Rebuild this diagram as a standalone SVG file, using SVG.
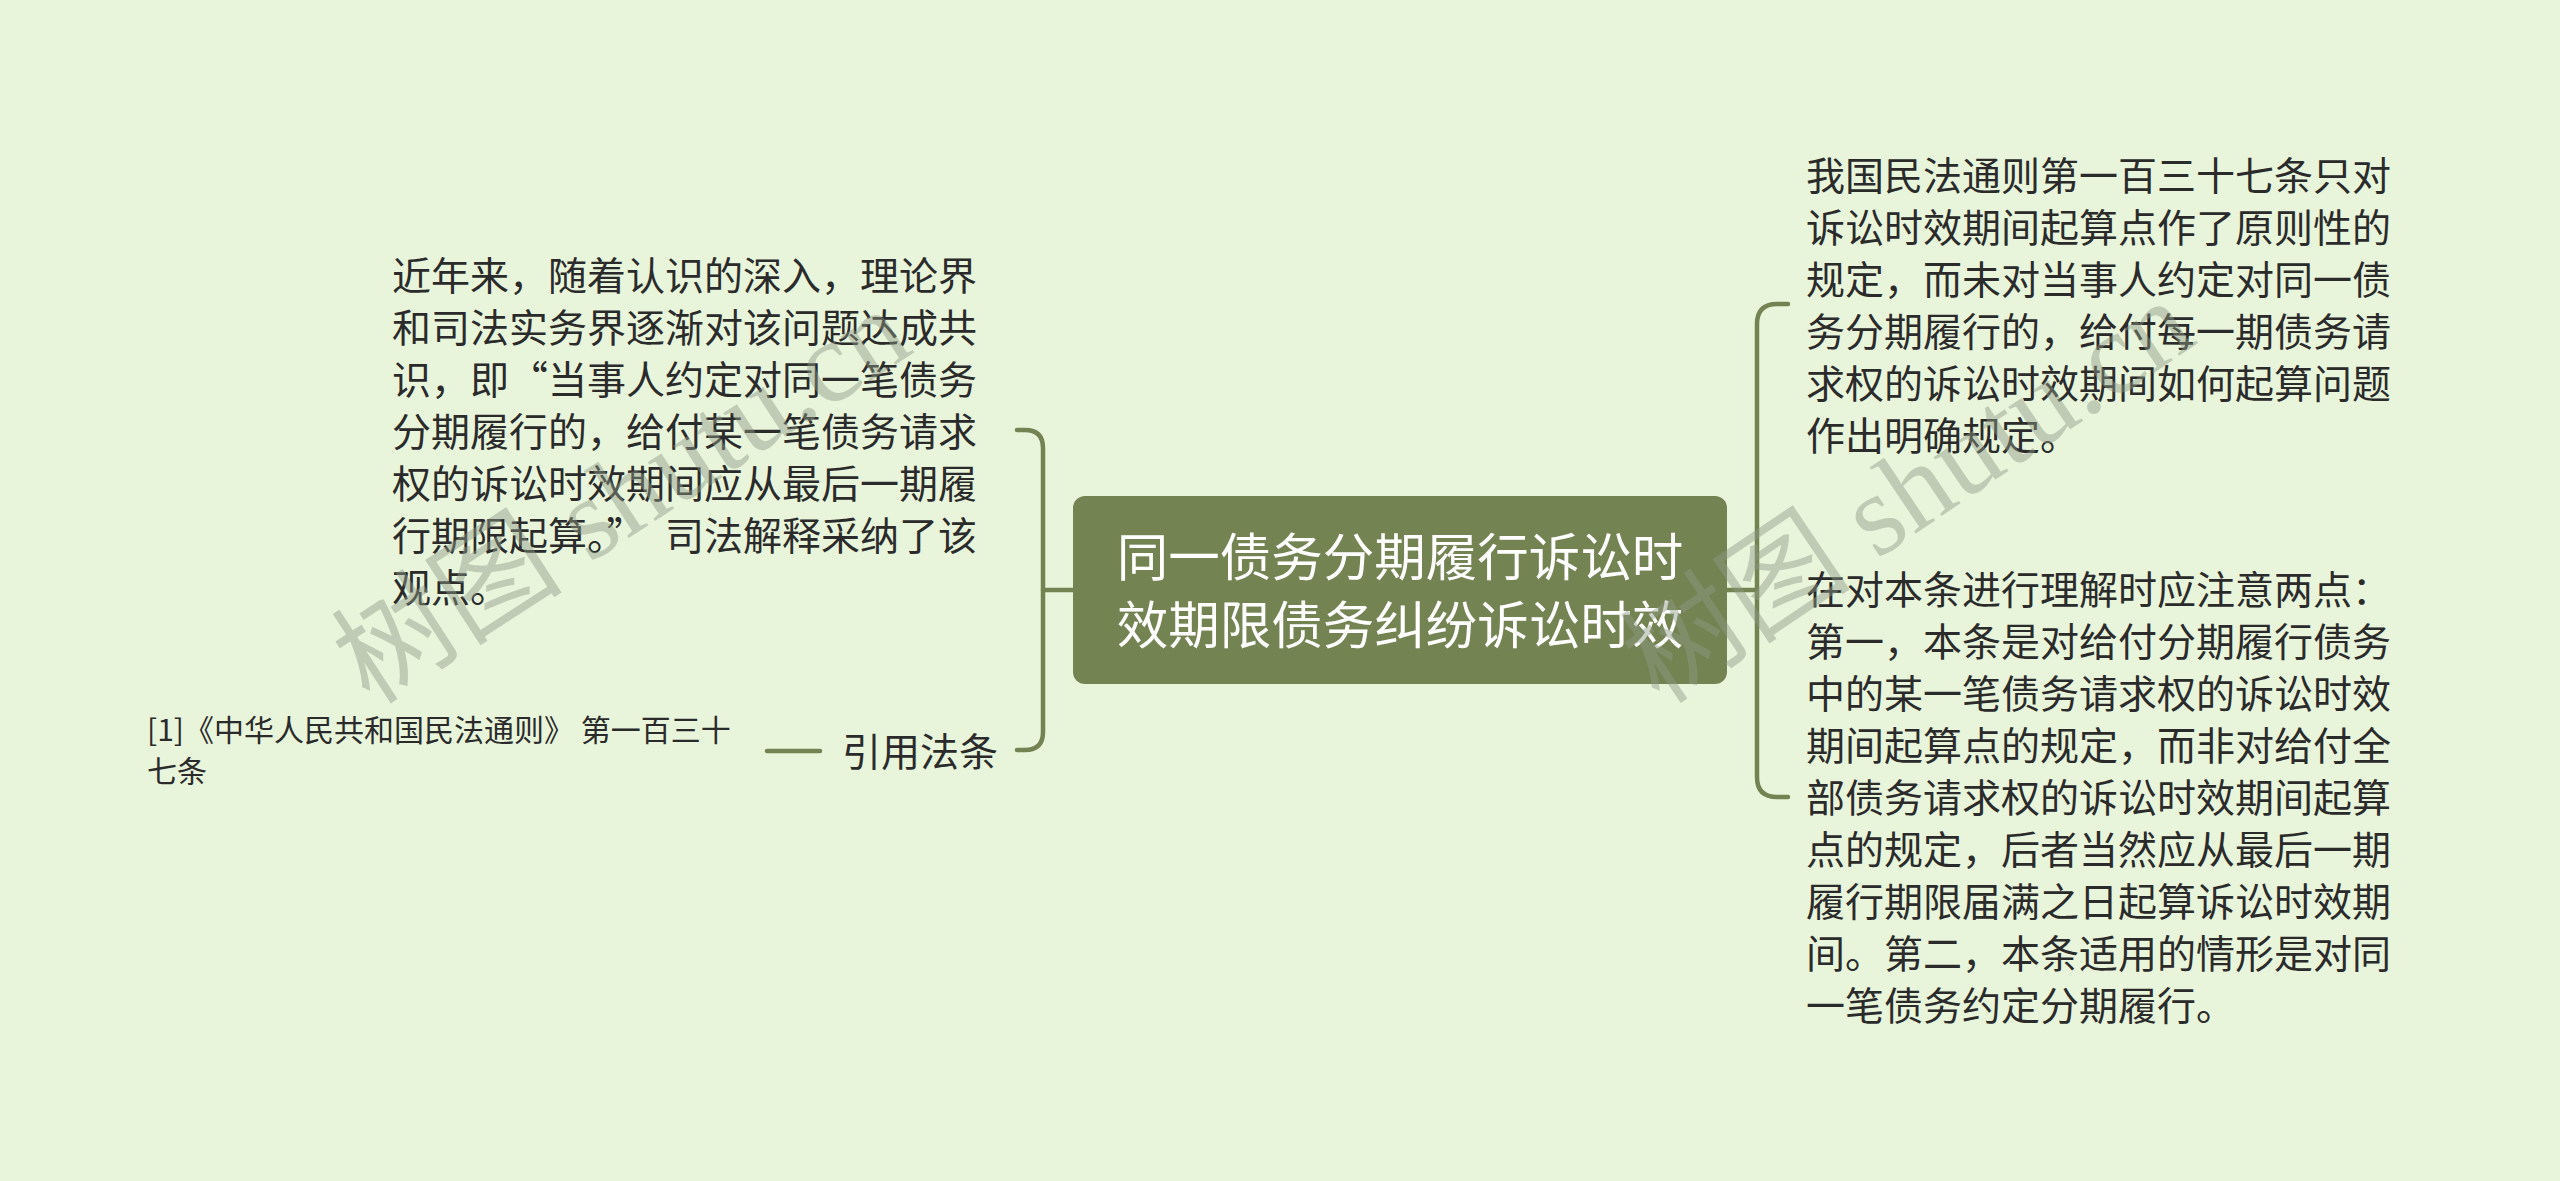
<svg xmlns="http://www.w3.org/2000/svg" width="2560" height="1181" viewBox="0 0 2560 1181">
<style>
.bg{fill:#e8f5db}
.conn{fill:none;stroke:#738352;stroke-width:4.5;stroke-linecap:round}
.body{font-family:"Noto Sans CJK SC","Noto Sans",sans-serif;font-size:39px;fill:#2b2b2b}
.small{font-family:"Noto Sans CJK SC","Noto Sans",sans-serif;font-size:30px;fill:#2b2b2b}
.root{font-family:"Noto Sans CJK SC","Noto Sans",sans-serif;font-size:51.5px;fill:#ffffff}
.wm{font-family:"Liberation Serif","Noto Sans CJK SC",serif;font-size:116px;fill:#8f9a86;opacity:0.45}
</style>
<rect class="bg" x="0" y="0" width="2560" height="1181"/>
<g id="connectors">
<path class="conn" d="M1073 590 H1043"/>
<path class="conn" d="M1017 430 H1025 Q1043 430 1043 448 V732 Q1043 750 1025 750 H1017"/>
<path class="conn" d="M1727 590 H1757"/>
<path class="conn" d="M1788 304 H1777 Q1757 304 1757 324 V777 Q1757 797 1777 797 H1788"/>
<path class="conn" d="M767 751 H820"/>
</g>
<g id="root">
<rect x="1073" y="496" width="654" height="188" rx="12" fill="#738352"/>
<text class="root" x="1400" y="576" text-anchor="middle">同一债务分期履行诉讼时</text>
<text class="root" x="1400" y="644" text-anchor="middle">效期限债务纠纷诉讼时效</text>
</g>
<g id="left-text">
<text class="body" x="392" y="290">近年来，随着认识的深入，理论界</text>
<text class="body" x="392" y="342">和司法实务界逐渐对该问题达成共</text>
<text class="body" x="392" y="394">识，即“<tspan x="548">当事人约定对同一笔债务</tspan></text>
<text class="body" x="392" y="446">分期履行的，给付某一笔债务请求</text>
<text class="body" x="392" y="498">权的诉讼时效期间应从最后一期履</text>
<text class="body" x="392" y="550">行期限起算。”<tspan x="665">司法解释采纳了该</tspan></text>
<text class="body" x="392" y="602">观点。</text>
</g>
<g id="law-label">
<text class="body" x="842" y="766">引用法条</text>
</g>
<g id="law-ref">
<text class="small" x="147" y="741">[1]《中华人民共和国民法通则》 第一百三十</text>
<text class="small" x="147" y="782">七条</text>
</g>
<g id="right-text-1">
<text class="body" x="1806" y="190">我国民法通则第一百三十七条只对</text>
<text class="body" x="1806" y="242">诉讼时效期间起算点作了原则性的</text>
<text class="body" x="1806" y="294">规定，而未对当事人约定对同一债</text>
<text class="body" x="1806" y="346">务分期履行的，给付每一期债务请</text>
<text class="body" x="1806" y="398">求权的诉讼时效期间如何起算问题</text>
<text class="body" x="1806" y="450">作出明确规定。</text>
</g>
<g id="right-text-2">
<text class="body" x="1806" y="604">在对本条进行理解时应注意两点：</text>
<text class="body" x="1806" y="656">第一，本条是对给付分期履行债务</text>
<text class="body" x="1806" y="708">中的某一笔债务请求权的诉讼时效</text>
<text class="body" x="1806" y="760">期间起算点的规定，而非对给付全</text>
<text class="body" x="1806" y="812">部债务请求权的诉讼时效期间起算</text>
<text class="body" x="1806" y="864">点的规定，后者当然应从最后一期</text>
<text class="body" x="1806" y="916">履行期限届满之日起算诉讼时效期</text>
<text class="body" x="1806" y="968">间。第二，本条适用的情形是对同</text>
<text class="body" x="1806" y="1020">一笔债务约定分期履行。</text>
</g>
<g id="watermarks">
<text class="wm" transform="translate(370 706) rotate(-33)">树图 shutu.cn</text>
<text class="wm" transform="translate(1660 706) rotate(-34)">树图 shutu.cn</text>
</g>
</svg>
